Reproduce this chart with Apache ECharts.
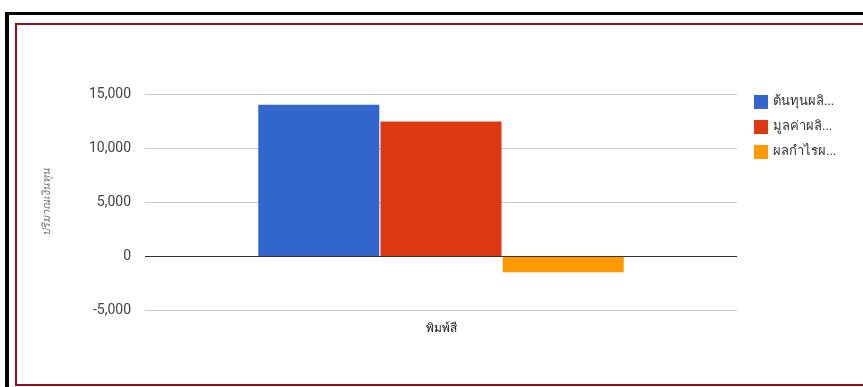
<!DOCTYPE html>
<html>
<head>
<meta charset="utf-8">
<script src="https://cdn.jsdelivr.net/npm/echarts@6/dist/echarts.min.js"></script>
<style>
html,body{margin:0;padding:0;background:#fff;}
#wrap{position:relative;width:863px;height:387px;overflow:hidden;background:#fff;}
#chart{position:absolute;left:0;top:0;width:863px;height:387px;}
.b{position:absolute;pointer-events:none;}
</style>
</head>
<body>
<div id="wrap">
<div id="chart"></div>
<div class="b" style="left:5px;top:12px;width:900px;height:3px;background:#000;"></div>
<div class="b" style="left:5px;top:12px;width:4px;height:400px;background:#000;"></div>
<div class="b" style="left:15px;top:23px;width:900px;height:359px;border:2px solid #9b0d1c;border-right:none;box-sizing:content-box;"></div>
</div>
<script>
var categories = ['พิมพ์สี'];
var seriesNames = ['ต้นทุนผลิ...', 'มูลค่าผลิ...', 'ผลกำไรผ...'];
var costValues = [14000];
var valueValues = [12450];
var profitValues = [-1500];
var yTicks = [-5000, 0, 5000, 10000, 15000];
var colors = ['#3366cc', '#dc3912', '#ff9900'];

var chart = echarts.init(document.getElementById('chart'), null, {renderer: 'canvas'});
var fontFam = 'Roboto, Arial, "Noto Sans", sans-serif';
function bar(name, data, color, extra) {
  var s = {
    name: name, type: 'bar', data: data, barWidth: 121, barGap: '1%',
    itemStyle: {color: color}, emphasis: {disabled: true}
  };
  if (extra) Object.assign(s, extra);
  return s;
}
chart.setOption({
  animation: false,
  textStyle: {fontFamily: fontFam},
  grid: {left: 145, right: 126, top: 94, bottom: 77, containLabel: false},
  legend: {
    orient: 'vertical', left: 749, top: 90, itemGap: 11,
    itemWidth: 14, itemHeight: 14, icon: 'rect',
    textStyle: {fontSize: 13, color: '#333', fontFamily: fontFam},
    data: seriesNames
  },
  xAxis: {
    type: 'category', data: categories,
    axisLine: {show: false, onZero: false}, axisTick: {show: false},
    axisLabel: {fontSize: 12, color: '#222', margin: 13}
  },
  yAxis: {
    type: 'value', min: yTicks[0], max: yTicks[yTicks.length - 1], interval: 5000,
    name: 'ปริมาณเงินทุน', nameLocation: 'middle', nameRotate: 90, nameGap: 92,
    nameTextStyle: {fontSize: 11, fontStyle: 'italic', color: '#777'},
    axisLine: {show: false}, axisTick: {show: false},
    axisLabel: {fontSize: 14, color: '#444', margin: 14,
      formatter: function (v) { return v.toLocaleString('en-US'); }},
    splitLine: {lineStyle: {color: '#cccccc', width: 1}}
  },
  series: [
    bar(seriesNames[0], costValues, colors[0], {
      markLine: {silent: true, symbol: 'none', label: {show: false},
        lineStyle: {color: '#333', width: 1, type: 'solid'}, data: [{yAxis: 0}]}
    }),
    bar(seriesNames[1], valueValues, colors[1]),
    bar(seriesNames[2], profitValues, colors[2])
  ]
});
</script>
</body>
</html>
